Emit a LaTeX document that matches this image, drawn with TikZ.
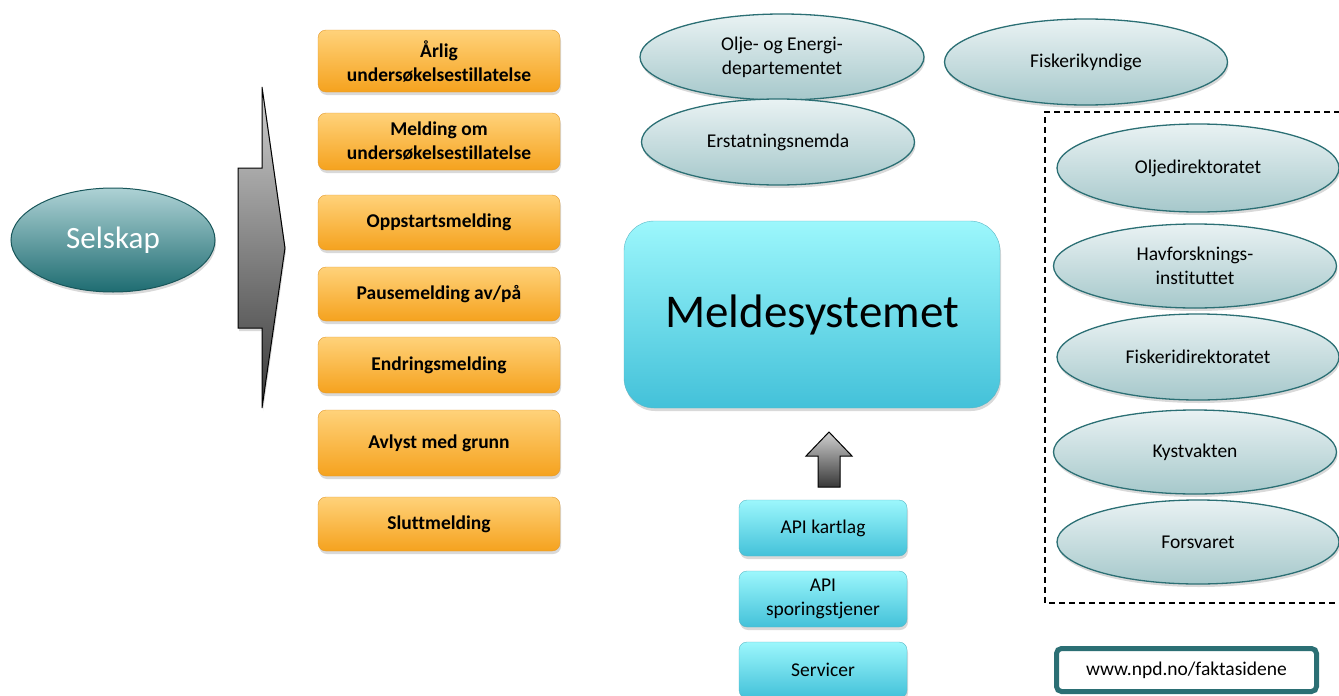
\documentclass[tikz,border=0pt]{standalone}
\usepackage{fontspec}
\setmainfont{Carlito}[Ligatures=NoCommon]
\usepackage{xcolor}
\usepackage{tikz}
\usetikzlibrary{shapes,shadows}
\definecolor{orangetop}{HTML}{FFD27A}
\definecolor{orangebot}{HTML}{F5A21E}
\definecolor{orangeline}{HTML}{E39A2E}
\definecolor{etattop}{HTML}{E9F2F3}
\definecolor{etatbot}{HTML}{A6C8CB}
\definecolor{tealline}{HTML}{2B6F74}
\definecolor{selskaptop}{HTML}{AED2D5}
\definecolor{selskapbot}{HTML}{1E6C71}
\definecolor{cyantop}{HTML}{9CF7FC}
\definecolor{cyanbot}{HTML}{43C1D9}
\definecolor{cyanline}{HTML}{5BB7C6}
\definecolor{greytop}{HTML}{D0D0D0}
\definecolor{greybot}{HTML}{383838}

\begin{document}
\begin{tikzpicture}[x=1pt,y=-1pt,
	every node/.style={font=\fontsize{19.5}{24}\selectfont,align=center,inner sep=0pt},
	skygge/.style={drop shadow={opacity=0.3,shadow xshift=1pt,shadow yshift=-3pt}},
	melding/.style={rectangle,rounded corners=8pt,draw=orangeline,top color=orangetop,bottom color=orangebot,minimum width=242pt,font=\bfseries\fontsize{19.5}{24}\selectfont,skygge},
	etat/.style={ellipse,draw=tealline,line width=1.3pt,top color=etattop,bottom color=etatbot,minimum width=283pt,minimum height=86pt,skygge},
	api/.style={rectangle,rounded corners=8pt,draw=cyanline,top color=cyantop,bottom color=cyanbot,minimum width=168pt,minimum height=56pt,skygge},
	pil/.style={draw=black,line width=1pt,top color=greytop,bottom color=greybot}]
	\clip (0,0) rectangle (1339,696);
	% avsender
	\node[ellipse,draw=selskapbot!80!black,line width=1pt,top color=selskaptop,bottom color=selskapbot,minimum width=204pt,minimum height=104pt,text=white,font=\fontsize{31}{36}\selectfont,skygge] (selskap) at (113,240) {Selskap};
	\path[pil,skygge] (262,87) -- (285,248) -- (262,408) -- (262,328) -- (238,328) -- (238,168) -- (262,168) -- cycle;
	% meldinger
	\node[melding,minimum height=62pt] (arlig) at (439,61) {Årlig\\undersøkelsestillatelse};
	\node[melding,minimum height=57pt] (melding) at (439,141.5) {Melding om\\undersøkelsestillatelse};
	\node[melding,minimum height=55pt] (oppstart) at (439,222.5) {Oppstartsmelding};
	\node[melding,minimum height=54pt] (pause) at (439,294) {Pausemelding av/på};
	\node[melding,minimum height=56pt] (endring) at (439,365) {Endringsmelding};
	\node[melding,minimum height=66pt] (avlyst) at (439,443) {Avlyst med grunn};
	\node[melding,minimum height=54pt] (slutt) at (439,524) {Sluttmelding};
	% systemet
	\node[rectangle,rounded corners=30pt,draw=cyanline,top color=cyantop,bottom color=cyanbot,minimum width=376pt,minimum height=187pt,font=\fontsize{47}{54}\selectfont,skygge] (system) at (812,314.5) {Meldesystemet};
	\path[pil] (829,432) -- (852,456) -- (840,456) -- (840,487) -- (818,487) -- (818,456) -- (806,456) -- cycle;
	\node[api] (kartlag) at (823,528) {API kartlag};
	\node[api] (sporing) at (823,599) {API\\sporingstjener};
	\node[api] (servicer) at (823,670) {Servicer};
	% mottakere
	\node[etat,minimum width=284pt] (oed) at (782,57) {Olje- og Energi-\\departementet};
	\node[etat] (fisker) at (1086,62) {Fiskerikyndige};
	\node[etat,minimum width=273pt] (erstatning) at (778,142) {Erstatningsnemda};
	\draw[line width=1.3pt,dash pattern=on 6pt off 4pt] (1350,112) -| (1045,603) -- (1350,603);
	\node[etat,minimum width=282pt,minimum height=88pt] (od) at (1198,168) {Oljedirektoratet};
	\node[etat,minimum height=84pt] (havforskning) at (1195,266) {Havforsknings-\\instituttet};
	\node[etat,minimum width=282pt] (fdir) at (1198,357) {Fiskeridirektoratet};
	\node[etat,minimum height=84pt] (kystvakt) at (1195,452) {Kystvakten};
	\node[etat,minimum width=282pt,minimum height=84pt] (forsvar) at (1198,542) {Forsvaret};
	\node[rectangle,rounded corners=5pt,draw=tealline,line width=5pt,fill=white,minimum width=260pt,minimum height=43pt] (npd) at (1186.5,670) {www.npd.no/faktasidene};
\end{tikzpicture}
\end{document}
